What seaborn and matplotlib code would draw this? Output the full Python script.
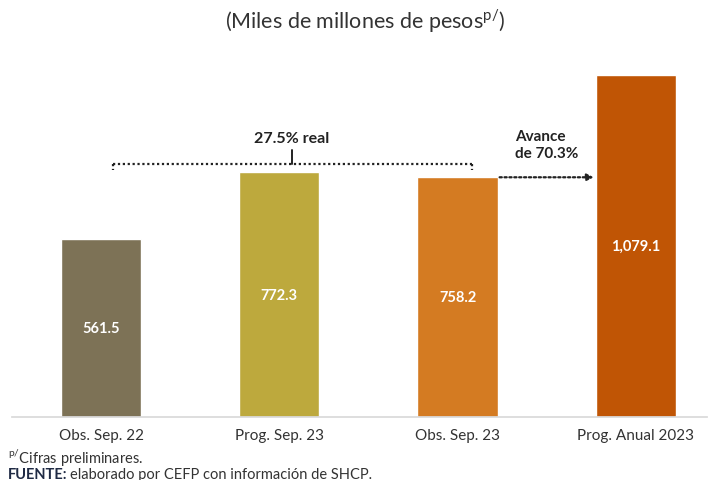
import pandas as pd
import matplotlib.pyplot as plt
import seaborn as sns

categorias = ["Obs. Sep. 22", "Prog. Sep. 23", "Obs. Sep. 23", "Prog. Anual 2023"]
valores = [561.5, 772.3, 758.2, 1079.1]
etiquetas = ["561.5", "772.3", "758.2", "1,079.1"]
colores = ["#7D7256", "#BDA93D", "#D47B22", "#C05505"]

df = pd.DataFrame({"categoria": categorias, "valor": valores})

sns.set_theme(style="white")
plt.rcParams['font.family'] = ['Lato', 'DejaVu Sans']

fig = plt.figure(figsize=(7.13, 4.81), dpi=100)
ax = fig.add_axes([0.0168, 0.131, 0.975, 0.79])

sns.barplot(data=df, x="categoria", y="valor", hue="categoria", palette=colores,
            width=0.45, legend=False, ax=ax, saturation=1)

ax.set_ylim(0, 1200)
ax.set_xlim(-0.5, 3.4)
ax.set_xlabel("")
ax.set_ylabel("")
ax.set_yticks([])
ax.tick_params(axis="x", labelsize=11, colors="#333333", pad=8, length=0)
for s in ["top", "right", "left"]:
    ax.spines[s].set_visible(False)
ax.spines["bottom"].set_color("#D9D9D9")

# etiquetas dentro de las barras
for i, (v, t) in enumerate(zip(valores, etiquetas)):
    ax.text(i, v / 2, t, ha="center", va="center", color="white",
            fontsize=10.5, fontweight="bold")

# llave punteada: Obs. Sep. 22 vs Obs. Sep. 23
yb = 798
ax.plot([0.067, 2.08], [yb, yb], ls=(0, (1, 1.2)), color="#222222", lw=1.6)
ax.plot([0.067, 0.067], [yb, 779], ls=(0, (1, 1.2)), color="#222222", lw=1.6)
ax.plot([2.08, 2.08], [yb, 779], ls=(0, (1, 1.2)), color="#222222", lw=1.6)
ax.plot([1.07, 1.07], [yb, 842], color="#222222", lw=1.4)
ax.text(1.07, 880, "27.5% real", ha="center", va="center", fontsize=11.5,
        fontweight="bold", color="#222222")

# flecha de avance
ax.annotate("", xy=(2.78, 757), xytext=(2.22, 757),
            arrowprops=dict(arrowstyle="-|>", ls=(0, (1, 1.2)), color="#222222",
                            lw=1.6, mutation_scale=10))
ax.text(2.32, 860, "Avance\nde 70.3%", ha="left", va="center", fontsize=11,
        fontweight="bold", color="#222222", linespacing=1.3)

fig.text(0.512, 0.955, r"(Miles de millones de pesos$^{\mathregular{p/}}$)",
         ha="center", va="center", fontsize=15.5, color="#333333")
fig.text(0.011, 0.048, r"$^{\mathregular{p/}}$Cifras preliminares.", ha="left",
         va="center", fontsize=10.5, color="#333333")
fig.text(0.011, 0.012, "FUENTE:", ha="left", va="center", fontsize=10.5,
         fontweight="bold", color="#1F2A44")
fig.text(0.098, 0.012, "elaborado por CEFP con información de SHCP.", ha="left",
         va="center", fontsize=10.5, color="#333333")

fig.savefig("out.png", dpi=100)
